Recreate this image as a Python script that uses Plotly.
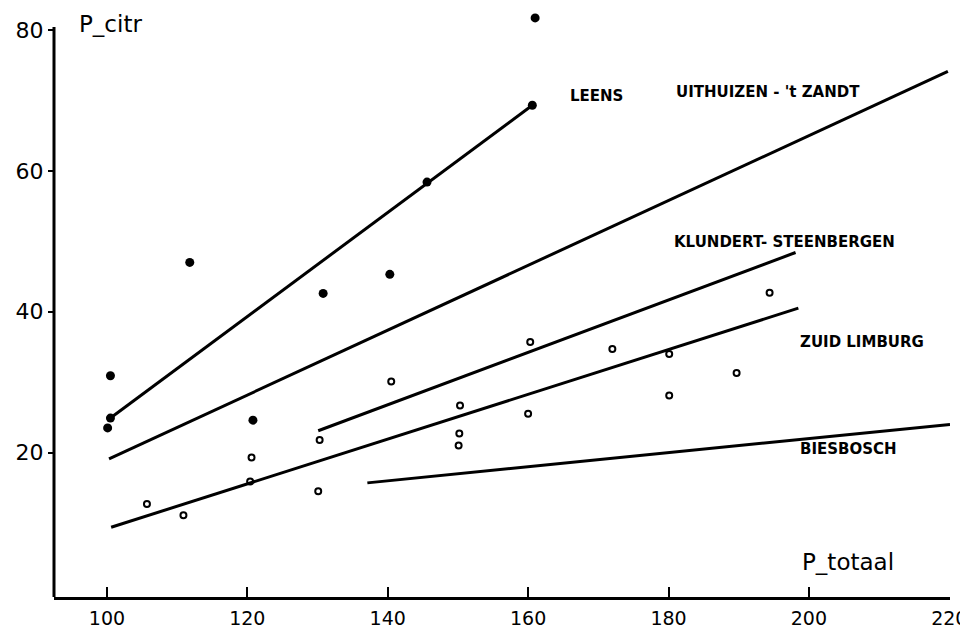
import plotly.graph_objects as go

# ---- data ----
leens_x = [100.5, 100.5, 100.1, 111.8, 120.8, 130.8, 140.3, 145.6, 160.6, 161.0]
leens_y = [30.9, 24.9, 23.5, 47.0, 24.6, 42.6, 45.3, 58.4, 69.3, 81.7]

other_x = [105.7, 110.9, 120.6, 120.4, 130.3, 130.1, 140.5, 150.3, 150.2, 150.1,
           160.3, 160.0, 172.0, 180.1, 180.1, 189.7, 194.4]
other_y = [12.7, 11.1, 19.3, 15.9, 21.8, 14.5, 30.1, 26.7, 22.7, 21.0,
           35.7, 25.5, 34.7, 34.0, 28.1, 31.3, 42.7]

line_names = ["LEENS", "UITHUIZEN - 't ZANDT", "KLUNDERT- STEENBERGEN", "ZUID LIMBURG", "BIESBOSCH"]
line_x0 = [100.5, 100.3, 130.1, 100.6, 137.1]
line_y0 = [24.9, 19.1, 23.1, 9.4, 15.7]
line_x1 = [160.6, 219.8, 198.1, 198.5, 220.1]
line_y1 = [69.3, 74.1, 48.4, 40.5, 24.0]

x_ticks = [100, 120, 140, 160, 180, 200, 220]
x_tick_labels = ["100", "120", "140", "160", "180", "200", "220"]
y_ticks = [20, 40, 60, 80]
y_tick_labels = ["20", "40", "60", "80"]

x_title = "P_totaal"
y_title = "P_citr"

# ---- figure ----
fig = go.Figure()

for name, x0, y0, x1, y1 in zip(line_names, line_x0, line_y0, line_x1, line_y1):
    fig.add_trace(go.Scatter(
        x=[x0, x1], y=[y0, y1], mode="lines", name=name,
        line=dict(color="black", width=3), cliponaxis=False, hoverinfo="skip"))

fig.add_trace(go.Scatter(
    x=other_x, y=other_y, mode="markers", name="open",
    marker=dict(symbol="circle-open", size=6, color="black", line=dict(width=2, color="black")),
    cliponaxis=False))

fig.add_trace(go.Scatter(
    x=leens_x, y=leens_y, mode="markers", name="Leens",
    marker=dict(symbol="circle", size=9, color="black"),
    cliponaxis=False))

# curve labels
label_pos = [(165.7, 70.6), (180.8, 71.2), (180.5, 49.9), (198.5, 35.7), (198.5, 20.5)]
for name, (lx, ly) in zip(line_names, label_pos):
    fig.add_annotation(x=lx, y=ly, text=name, showarrow=False, xanchor="left", yanchor="middle",
                       font=dict(family="DejaVu Sans", size=15, color="black", weight="bold"))

# axis titles placed as in the reference
fig.add_annotation(x=95.7, y=80.9, text=y_title, showarrow=False, xanchor="left", yanchor="middle",
                   font=dict(family="DejaVu Sans", size=23, color="black"))
fig.add_annotation(x=198.8, y=4.4, text=x_title, showarrow=False, xanchor="left", yanchor="middle",
                   font=dict(family="DejaVu Sans", size=23, color="black"))

# vertical axis line stops at the 80 tick, as in the reference
fig.add_shape(type="line", xref="paper", yref="y", x0=0, x1=0, y0=-0.5, y1=80.4,
              line=dict(color="black", width=3))

# page body has an 8px margin, so the figure is 8px smaller than the window
fig.update_layout(
    width=960, height=622,
    margin=dict(l=46, r=18, t=5, b=33),
    paper_bgcolor="white", plot_bgcolor="white",
    showlegend=False,
    font=dict(family="DejaVu Sans", color="black"),
    xaxis=dict(range=[92.46, 220.1], tickvals=x_ticks, ticktext=x_tick_labels,
               automargin=False, ticklabeloverflow="allow",
               showgrid=False, zeroline=False, showline=True, linecolor="black", linewidth=3,
               ticks="inside", ticklen=10, tickwidth=2, tickcolor="black",
               ticklabelstandoff=2, tickfont=dict(size=19, family="DejaVu Sans", color="black")),
    yaxis=dict(range=[-0.5, 82.4], tickvals=y_ticks, ticktext=y_tick_labels,
               automargin=False, ticklabeloverflow="allow",
               showgrid=False, zeroline=False, showline=False,
               ticks="outside", ticklen=5, tickwidth=2, tickcolor="black",
               ticklabelstandoff=0, tickfont=dict(size=22, family="DejaVu Sans", color="black")),
)

fig.write_html("out.html")
